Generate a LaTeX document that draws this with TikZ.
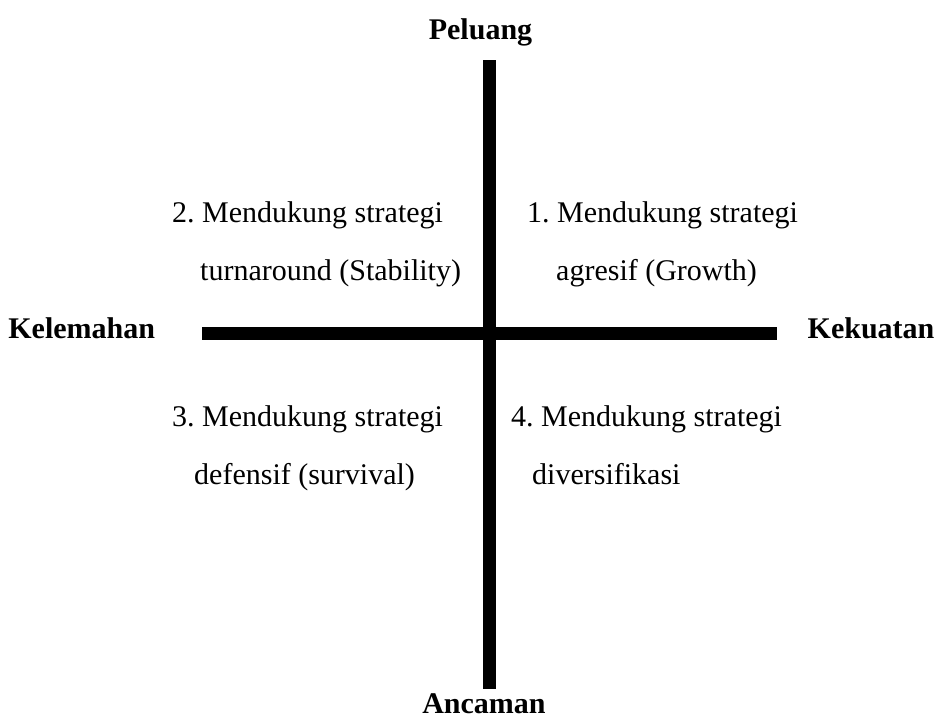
\documentclass[tikz,border=0pt]{standalone}
\usepackage{fontspec}
\setmainfont{Liberation Serif}
\frenchspacing
\begin{document}
\begin{tikzpicture}[x=1pt,y=-1pt,
  axis/.style={line width=12.5pt},
  lbl/.style={font=\fontsize{30}{36}\selectfont\bfseries, inner sep=0pt, anchor=base},
  qtext/.style={font=\fontsize{30}{36}\selectfont, inner sep=0pt, anchor=base west}]
\useasboundingbox (0,0) rectangle (934,715);
\coordinate (vt) at (489.3,60);
\coordinate (vb) at (489.3,689);
\coordinate (hl) at (202,333.5);
\coordinate (hr) at (777,333.5);
\draw[axis] (vt) -- (vb);
\draw[axis] (hl) -- (hr);
\node[lbl] (peluang) at (480.5,39) {Peluang};
\node[lbl] (ancaman) at (484,713) {Ancaman};
\node[lbl] (kelemahan) at (81.7,338.5) {Kelemahan};
\node[lbl] (kekuatan) at (871,338.5) {Kekuatan};
\node[qtext] (q2a) at (172,222) {2. Mendukung strategi};
\node[qtext] (q2b) at (200,280) {turnaround (Stability)};
\node[qtext] (q1a) at (527,222) {1. Mendukung strategi};
\node[qtext] (q1b) at (556,280) {agresif (Growth)};
\node[qtext] (q3a) at (172,426.5) {3. Mendukung strategi};
\node[qtext] (q3b) at (194,484) {defensif (survival)};
\node[qtext] (q4a) at (511,426.5) {4. Mendukung strategi};
\node[qtext] (q4b) at (532,484) {diversifikasi};
\end{tikzpicture}
\end{document}
